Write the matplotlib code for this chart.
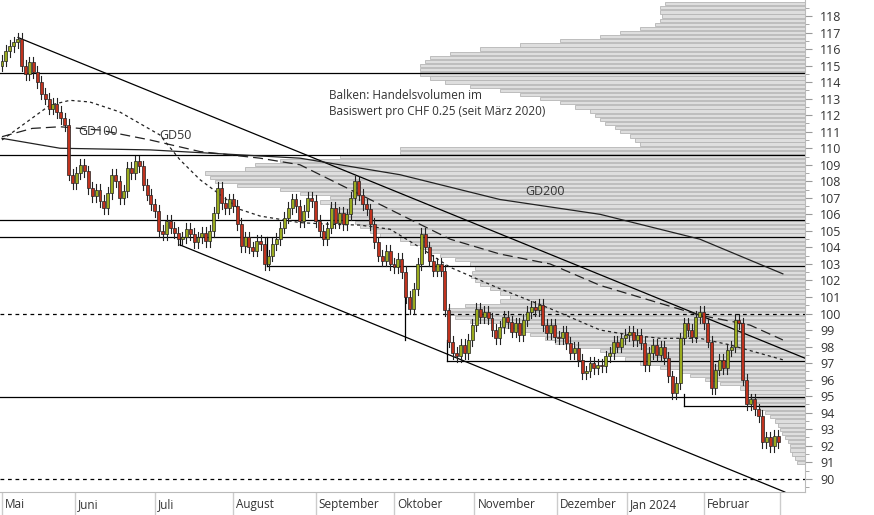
import matplotlib
matplotlib.use("Agg")
import matplotlib.pyplot as plt
import matplotlib.transforms as mtransforms
import numpy as np

plt.rcParams['font.family'] = ['Open Sans', 'DejaVu Sans']

# ---------------- data ----------------
closes_may = [115.3,115.9,116.2,116.4,116.6,115.0,114.5,115.2,114.6,114.0,113.3,113.0,112.4,112.7,112.2,111.8,111.4,108.4,107.9]
closes_jun = [108.5,109.0,108.6,107.6,107.1,107.5,106.8,106.4,107.3,108.4,108.0,107.0,107.4,108.8,108.5,109.2,108.9,107.8,107.2,106.6]
closes_jul = [106.2,105.0,104.8,105.6,105.2,104.9,104.5,104.6,105.1,104.8,104.3,104.6,104.9,104.4,105.0,106.1,107.6,106.7,106.4,106.9]
closes_aug = [106.5,105.4,104.1,104.6,104.0,103.8,104.4,104.2,103.0,103.5,104.2,104.5,105.2,105.8,106.4,106.9,106.5,105.6,106.2,107.0,106.8]
closes_sep = [105.6,105.0,104.5,105.2,106.4,105.5,106.1,105.4,106.0,107.0,108.0,107.2,106.6,106.3,105.4,104.3,103.5,103.2,103.8,103.0]
closes_oct = [102.8,103.3,102.5,101.0,100.3,101.5,103.0,104.8,104.0,103.2,102.6,103.0,102.6,100.2,98.3,97.6,97.4,98.1,97.6,98.4,99.3]
closes_nov = [100.3,99.8,100.1,99.7,99.0,98.5,99.2,99.8,99.5,98.9,99.4,98.7,99.6,100.1,100.4,100.2,100.5,99.3,98.8,99.3,98.6]
closes_dec = [98.5,98.9,98.2,97.6,97.9,97.2,96.4,96.5,97.0,96.7,96.9,96.8,97.4,97.6,98.3,98.0,98.5,98.7]
closes_jan = [98.9,98.4,98.7,98.2,96.9,97.6,98.1,97.5,98.0,97.3,96.2,95.2,95.8,98.5,99.4,99.0,98.6,99.8,100.1,99.4]
closes_feb = [98.3,95.5,96.6,97.2,96.7,97.8,98.0,99.6,99.4,96.0,94.5,94.8,94.2,93.8,92.2,92.5,92.0,92.6,92.2]
first_open = 115.0

month_labels = ["Mai","Juni","Juli","August","September","Oktober","November","Dezember","Jan 2024","Februar",""]
month_days = [0,18.6,39,59,80,100,120.5,141.5,159.5,179,198.5]

# moving averages: (day, value)
gd200_d = [0,14.8,37.8,76,101.5,127,152.6,178,199.2]
gd200_v = [110.6,110.0,109.9,109.4,108.4,106.9,106.0,104.5,102.4]
gd100_d = [0,7.7,14.8,25,37.8,50.5,65.8,76,88.8,101.5,114.3,127,139.8,152.6,165.3,178,190.8,199.2]
gd100_v = [110.7,111.2,111.3,111.1,110.5,109.8,109.4,109.0,107.5,106.0,104.5,103.6,103.0,101.7,100.8,99.9,99.3,98.4]
gd50_d = [0,12.2,17.3,22.4,30,40.3,45.4,50.5,60.7,65.8,76,83.7,91.3,99,106.6,114.3,127,139.8,152.6,160.2,167.9,178,185.7,199.2]
gd50_v = [110.5,112.6,112.9,112.8,112.2,110.8,109.3,108.1,106.3,105.9,105.5,105.4,105.35,105.1,104.0,102.8,101.5,100.3,99.0,98.7,98.5,98.5,98.1,97.2]

# volume profile (price rows 0.25 apart, top -> bottom)
vp_price = list(np.round(np.arange(118.75, 90.9, -0.25), 2))
vp_vol = [140,145,145,143,145,150,165,185,205,245,285,325,355,375,380,385,385,385,375,360,335,305,285,265,245,230,215,210,205,200,190,185,175,170,165,
          405,405,465,525,550,560,600,595,590,568,525,505,475,485,475,470,465,465,450,445,435,425,405,395,385,375,365,350,335,330,333,334,330,325,315,305,295,
          305,340,357,357,350,335,305,285,275,260,250,230,205,195,180,165,145,125,115,100,85,65,60,55,53,50,45,40,35,30,27,25,23,20,17,15,15,13,10,8]

solid_levels = [114.55,109.6,105.67,104.65,94.97]
dashed_levels = [100.0,90.0]

# ---------------- figure ----------------
PX = 3.92  # px per day
XMIN = -2/PX
XMAX = XMIN + 805/PX
YMIN, YMAX = 89.2, 118.97

fig = plt.figure(figsize=(8.74,5.15), dpi=100)
ax = fig.add_axes([0, 23/515, 805/874, 492/515])
ax.set_xlim(XMIN, XMAX); ax.set_ylim(YMIN, YMAX)

closes = closes_may+closes_jun+closes_jul+closes_aug+closes_sep+closes_oct+closes_nov+closes_dec+closes_jan+closes_feb
opens = [first_open]+closes[:-1]
days = np.arange(len(closes))

n = min(len(vp_price), len(vp_vol))
vols = np.array(vp_vol[:n])/PX
ax.barh(vp_price[:n], vols, left=XMAX-vols, height=0.2, color="#dedede", edgecolor="#b5b5b5", linewidth=0.6, zorder=1)

for lv in solid_levels:
    ax.axhline(lv, color="black", lw=0.9, zorder=2)
for lv in dashed_levels:
    ax.axhline(lv, color="black", lw=0.9, ls=(0,(3,3)), zorder=2)

segs = [((45.4,104.65),(45.4,104.15)), ((67.6,104.65),(67.6,102.85)), ((67.6,102.85),(XMAX,102.85)),
        ((102.8,101.9),(102.8,98.4)), ((113.5,98.4),(113.5,97.1)), ((113.5,97.1),(XMAX,97.1)),
        ((174,95.1),(174,94.4)), ((174,94.4),(XMAX,94.4))]
for (a,b) in segs:
    ax.plot([a[0],b[0]],[a[1],b[1]], color="black", lw=0.9, zorder=2)

ax.plot([4.1,204.8],[116.7,97.3], color="black", lw=0.9, zorder=2)
ax.plot([45.4,199.7],[104.15,89.2], color="black", lw=0.9, zorder=2)

ax.plot(gd200_d, gd200_v, color="#222222", lw=0.9, zorder=3)
ax.plot(gd100_d, gd100_v, color="#222222", lw=0.9, ls=(0,(8,4)), zorder=3)
ax.plot(gd50_d, gd50_v, color="#222222", lw=0.9, ls=(0,(2.5,2.5)), zorder=3)

for d,o,c in zip(days,opens,closes):
    hi = max(o,c)+0.35; lo = min(o,c)-0.35
    ax.plot([d,d],[lo,hi], color="#222222", lw=0.8, zorder=4)
    col = "#9aab1e" if c>=o else "#c0321e"
    h = max(abs(c-o),0.08)
    ax.add_patch(plt.Rectangle((d-0.38, min(o,c)), 0.76, h, facecolor=col, edgecolor="#222222", lw=0.5, zorder=5))

ax.text(83.5, 112.7, "Balken: Handelsvolumen im\nBasiswert pro CHF 0.25 (seit März 2020)", fontsize=8.5, color="#333333", va="center", ha="left", linespacing=1.3)
ax.text(19.5, 110.8, "GD100", fontsize=9, color="#333333")
ax.text(40, 110.55, "GD50", fontsize=9, color="#333333")
ax.text(133.5, 107.2, "GD200", fontsize=9, color="#333333")

for s in ["top","left"]:
    ax.spines[s].set_visible(False)
for s in ["right","bottom"]:
    ax.spines[s].set_color("#bbbbbb")
ax.yaxis.tick_right()
ax.set_yticks(range(90,119))
ax.set_yticks(np.arange(89.5,119,1.0), minor=True)
ax.tick_params(axis="y", which="major", length=5, color="#999999", labelsize=9, labelcolor="#333333", pad=6)
ax.tick_params(axis="y", which="minor", length=3, color="#999999")
ax.set_xticks(month_days)
ax.set_xticklabels([])
ax.tick_params(axis="x", length=23, color="#cccccc", width=1)
trans = mtransforms.blended_transform_factory(ax.transData, ax.transAxes)
for d,lab in zip(month_days, month_labels):
    ax.text(d+0.8, -0.012, lab, transform=trans, fontsize=8.5, color="#333333", ha="left", va="top")

fig.savefig("out.png", dpi=100)
